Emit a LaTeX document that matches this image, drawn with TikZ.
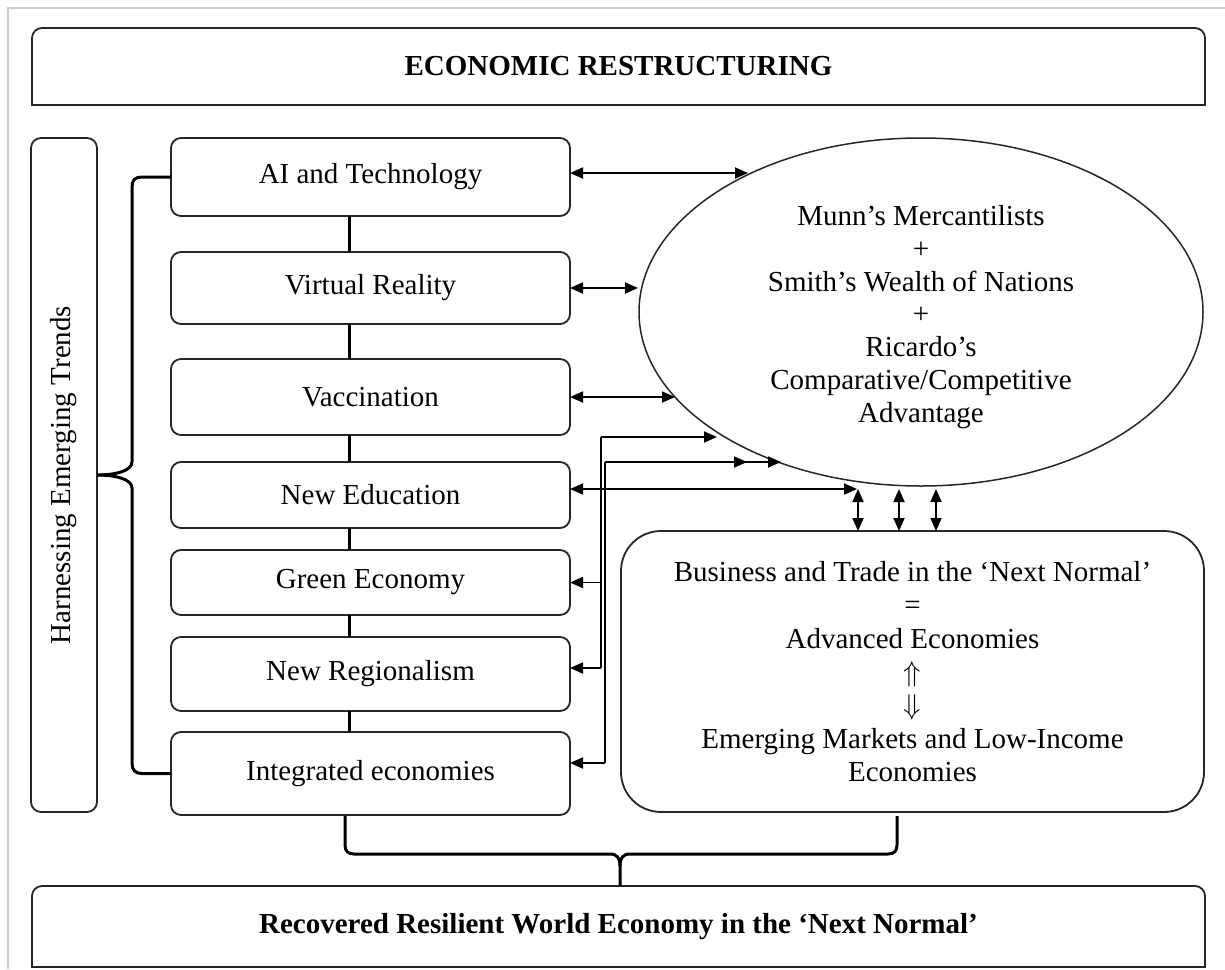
\documentclass[tikz,border=0pt]{standalone}
\usepackage{fontspec}
\setmainfont{Liberation Serif}
\usetikzlibrary{shapes.geometric,arrows.meta}
\begin{document}
\begin{tikzpicture}[x=1pt,y=-1pt,
  >={Triangle[length=13pt,width=11pt]},
  txt/.style={font=\fontsize{29pt}{33pt}\selectfont},
  boldtxt/.style={font=\bfseries\fontsize{29pt}{33pt}\selectfont},
  boxline/.style={draw=black!85, line width=1.8pt},
  trend/.style={boxline, rounded corners=10pt, minimum width=399pt, inner sep=0pt, outer sep=0pt, txt},
  vlink/.style={line width=3pt},
  arr/.style={line width=1.8pt},
  bracel/.style={line width=3pt},
]
\useasboundingbox (0,0) rectangle (1225,969);
\draw[black!20, line width=2pt] (8,969) -- (8,8) -- (1225,8);

% title
\node[minimum width=1173pt, minimum height=77pt, inner sep=0pt, outer sep=0pt, boldtxt] (title) at (618.5,66.5) {ECONOMIC RESTRUCTURING};
\draw[boxline, rounded corners=10pt] (title.south west) -- (title.north west) -- (title.north east) -- (title.south east);
\draw[boxline, line cap=rect] (title.south west) -- (title.south east);

% left side box
\node[boxline, rounded corners=10pt, minimum width=66pt, minimum height=674pt, inner sep=0pt, outer sep=0pt] (harn) at (64,475) {};
\node[txt, rotate=90] (harnt) at (harn.center) {Harnessing Emerging Trends};

% trend boxes
\node[trend, minimum height=78pt] (ai) at (370.5,177) {AI and Technology};
\node[trend, minimum height=72pt] (vr) at (370.5,288) {Virtual Reality};
\node[trend, minimum height=76pt] (vac) at (370.5,397) {Vaccination};
\node[trend, minimum height=66pt] (ned) at (370.5,495) {New Education};
\node[trend, minimum height=65pt] (green) at (370.5,582.5) {Green Economy};
\node[trend, minimum height=74pt] (nreg) at (370.5,674) {New Regionalism};
\node[trend, minimum height=83pt] (integ) at (370.5,773.5) {Integrated economies};

\coordinate (cx) at (349,0);
\foreach \a/\b in {ai/vr,vr/vac,vac/ned,ned/green,green/nreg,nreg/integ}
  \draw[vlink] (\a.south -| cx) -- (\b.north -| cx);

% ellipse
\node[ellipse, draw=black!85, line width=1.5pt, minimum width=564pt, minimum height=348pt, inner sep=0pt, outer sep=0pt] (ell) at (921,312) {};
\node[align=center, inner sep=0pt, font=\fontsize{29pt}{32.7pt}\selectfont] (ellt) at ([yshift=-5pt]ell.center)
  {Munn’s Mercantilists\\+\\Smith’s Wealth of Nations\\+\\Ricardo’s\\Comparative/Competitive\\Advantage};

% business box
\node[boxline, rounded corners=40pt, minimum width=583pt, minimum height=281pt, inner sep=0pt, outer sep=0pt, align=center, font=\fontsize{29pt}{33.3pt}\selectfont] (biz) at (912.5,671.5)
  {Business and Trade in the ‘Next Normal’\\=\\Advanced Economies\\\scalebox{1.15}{$\Uparrow$}\\\scalebox{1.15}{$\Downarrow$}\\Emerging Markets and Low-Income\\Economies};

% arrows trend boxes <-> ellipse
\coordinate (pa) at (748,173);
\coordinate (pv) at (638,288);
\coordinate (pc) at (675,397);
\draw[arr,<->] (ai.east |- pa) -- (pa);
\draw[arr,<->] (vr.east |- pv) -- (pv);
\draw[arr,<->] (vac.east |- pc) -- (pc);

\coordinate (v1) at (601,437);
\coordinate (v2) at (605,462);
\coordinate (p1) at (717,437);
\coordinate (p2a) at (747,462);
\coordinate (p2) at (781,462);
\coordinate (p3) at (857,489);
\coordinate (ynr) at (0,668);
\coordinate (yin) at (0,763);
\draw[arr] (v1) -- (v1 |- ynr);
\draw[arr] (v2) -- (v2 |- yin);
\draw[arr,->] (v1) -- (p1);
\draw[arr,->] (v2) -- (p2a);
\draw[arr,->] (v2) -- (p2);
\draw[arr,<->] (ned.east |- p3) -- (p3);
\draw[arr,->] (v1 |- green.east) -- (green.east);
\draw[arr,->] (v1 |- ynr) -- (nreg.east |- ynr);
\draw[arr,->] (v2 |- yin) -- (integ.east |- yin);

% ellipse <-> business
\coordinate (q1) at (858,489);
\coordinate (q2) at (899,489);
\coordinate (q3) at (936,489);
\foreach \q in {q1,q2,q3}
  \draw[arr,<->] (\q) -- (\q |- biz.north);

% left brace
\draw[bracel] (ai.west) -- (142,177) .. controls (135,177) and (132,180) .. (132,187) -- (132,462)
  .. controls (132,471) and (115,475) .. (harn.east);
\draw[bracel] (harn.east) .. controls (115,475) and (132,479) .. (132,488) -- (132,763)
  .. controls (132,770) and (135,773.5) .. (142,773.5) -- (integ.west);

% bottom box
\node[minimum width=1173pt, minimum height=81pt, inner sep=0pt, outer sep=0pt, boldtxt] (bottom) at (618.5,926.5) {Recovered Resilient World Economy in the ‘Next Normal’};
\draw[boxline, rounded corners=10pt] (bottom.south west) -- (bottom.north west) -- (bottom.north east) -- (bottom.south east);
\draw[boxline, line cap=rect] (bottom.south west) -- (bottom.south east);

% bottom brace
\coordinate (bl) at (345,816);
\coordinate (br) at (897,816);
\coordinate (tipc) at (620,866);
\draw[bracel] (bl) -- (345,845) .. controls (345,851) and (348,854) .. (354,854) -- (610,854)
  .. controls (617,854) and (620,858) .. (tipc) -- (bottom.north -| tipc);
\draw[bracel] (br) -- (897,845) .. controls (897,851) and (894,854) .. (888,854) -- (630,854)
  .. controls (623,854) and (620,858) .. (tipc);
\end{tikzpicture}
\end{document}
